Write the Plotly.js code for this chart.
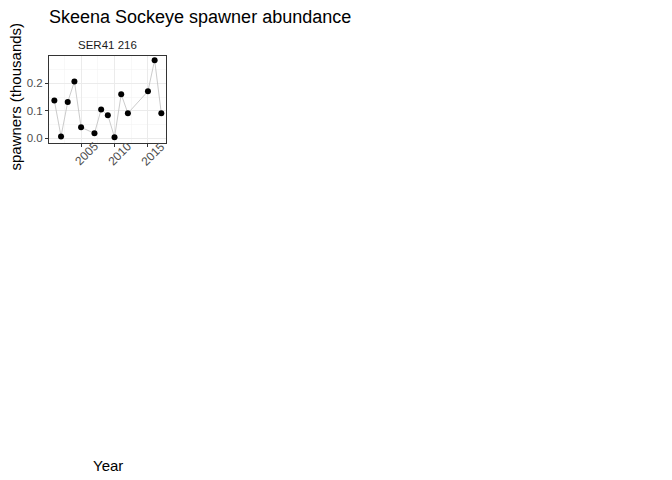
<!DOCTYPE html>
<html>
<head>
<meta charset="utf-8">
<script src="https://cdn.plot.ly/plotly-3.0.1.min.js"></script>
<style>html,body{margin:0;padding:0;background:#fff;}</style>
</head>
<body>
<div id="chart" style="width:672px;height:480px;"></div>
<script>
const years = [2001, 2002, 2003, 2004, 2005, 2007, 2008, 2009, 2010, 2011, 2012, 2015, 2016, 2017];
const spawners = [0.137, 0.007, 0.132, 0.206, 0.040, 0.018, 0.105, 0.084, 0.004, 0.160, 0.091, 0.171, 0.284, 0.091];
const xTicks = [2005, 2010, 2015];
const xTickLabels = ['2005', '2010', '2015'];
const yTicks = [0.0, 0.1, 0.2];
const yTickLabels = ['0.0', '0.1', '0.2'];
const panelLabel = 'SER41 216';

const W = 672, H = 480;
const px = (v) => v / W, py = (v) => 1 - v / H;

const trace = {
  x: years, y: spawners, type: 'scatter', mode: 'lines+markers',
  line: {color: '#BEBEBE', width: 0.8},
  marker: {color: '#000000', size: 6},
  hoverinfo: 'x+y'
};

const tickAnn = xTicks.map((v, i) => ({
  text: xTickLabels[i], xref: 'x', yref: 'paper', x: v, y: py(153.5), xshift: 5,
  xanchor: 'center', yanchor: 'middle', textangle: -45, showarrow: false,
  font: {size: 12, color: '#4D4D4D'}
}));

const layout = {
  width: W, height: H,
  margin: {l: 0, r: 0, t: 0, b: 0},
  paper_bgcolor: '#ffffff', plot_bgcolor: '#ffffff',
  showlegend: false,
  font: {family: 'Liberation Sans, Arial, sans-serif', color: '#000'},
  title: {text: 'Skeena Sockeye spawner abundance', x: px(49), xanchor: 'left', y: py(17), yanchor: 'middle',
          font: {size: 18, color: '#000'}},
  xaxis: {
    domain: [px(49), px(166)], range: [2000.2, 2017.7],
    tickvals: xTicks, showticklabels: false,
    ticks: 'outside', ticklen: 3, tickcolor: '#333333', tickwidth: 1,
    showgrid: true, gridcolor: '#EBEBEB', gridwidth: 1,
    minor: {tickvals: [2002.5, 2007.5, 2012.5], showgrid: true, gridcolor: '#F4F4F4', gridwidth: 0.6, ticks: ''},
    showline: true, mirror: true, linecolor: '#333333', linewidth: 1,
    zeroline: false, anchor: 'y'
  },
  yaxis: {
    domain: [py(143), py(56)], range: [-0.017, 0.299],
    tickvals: yTicks, ticktext: yTickLabels,
    ticks: 'outside', ticklen: 3, tickcolor: '#333333', tickwidth: 1,
    tickfont: {size: 11.5, color: '#4D4D4D'},
    showgrid: true, gridcolor: '#EBEBEB', gridwidth: 1,
    minor: {tickvals: [0.05, 0.15, 0.25], showgrid: true, gridcolor: '#F4F4F4', gridwidth: 0.6, ticks: ''},
    showline: true, mirror: true, linecolor: '#333333', linewidth: 1,
    zeroline: false, anchor: 'x'
  },
  annotations: [
    {text: panelLabel, xref: 'paper', yref: 'paper', x: px(107), y: py(45), xanchor: 'center', yanchor: 'middle',
     showarrow: false, font: {size: 11.5, color: '#1A1A1A'}},
    {text: 'Year', xref: 'paper', yref: 'paper', x: px(108), y: py(465), xanchor: 'center', yanchor: 'middle',
     showarrow: false, font: {size: 15, color: '#000'}},
    {text: 'spawners (thousands)', xref: 'paper', yref: 'paper', x: px(15), y: py(96.5), xanchor: 'center', yanchor: 'middle',
     textangle: -90, showarrow: false, font: {size: 15, color: '#000'}}
  ].concat(tickAnn)
};

Plotly.newPlot('chart', [trace], layout, {displayModeBar: false, staticPlot: true});
</script>
</body>
</html>
